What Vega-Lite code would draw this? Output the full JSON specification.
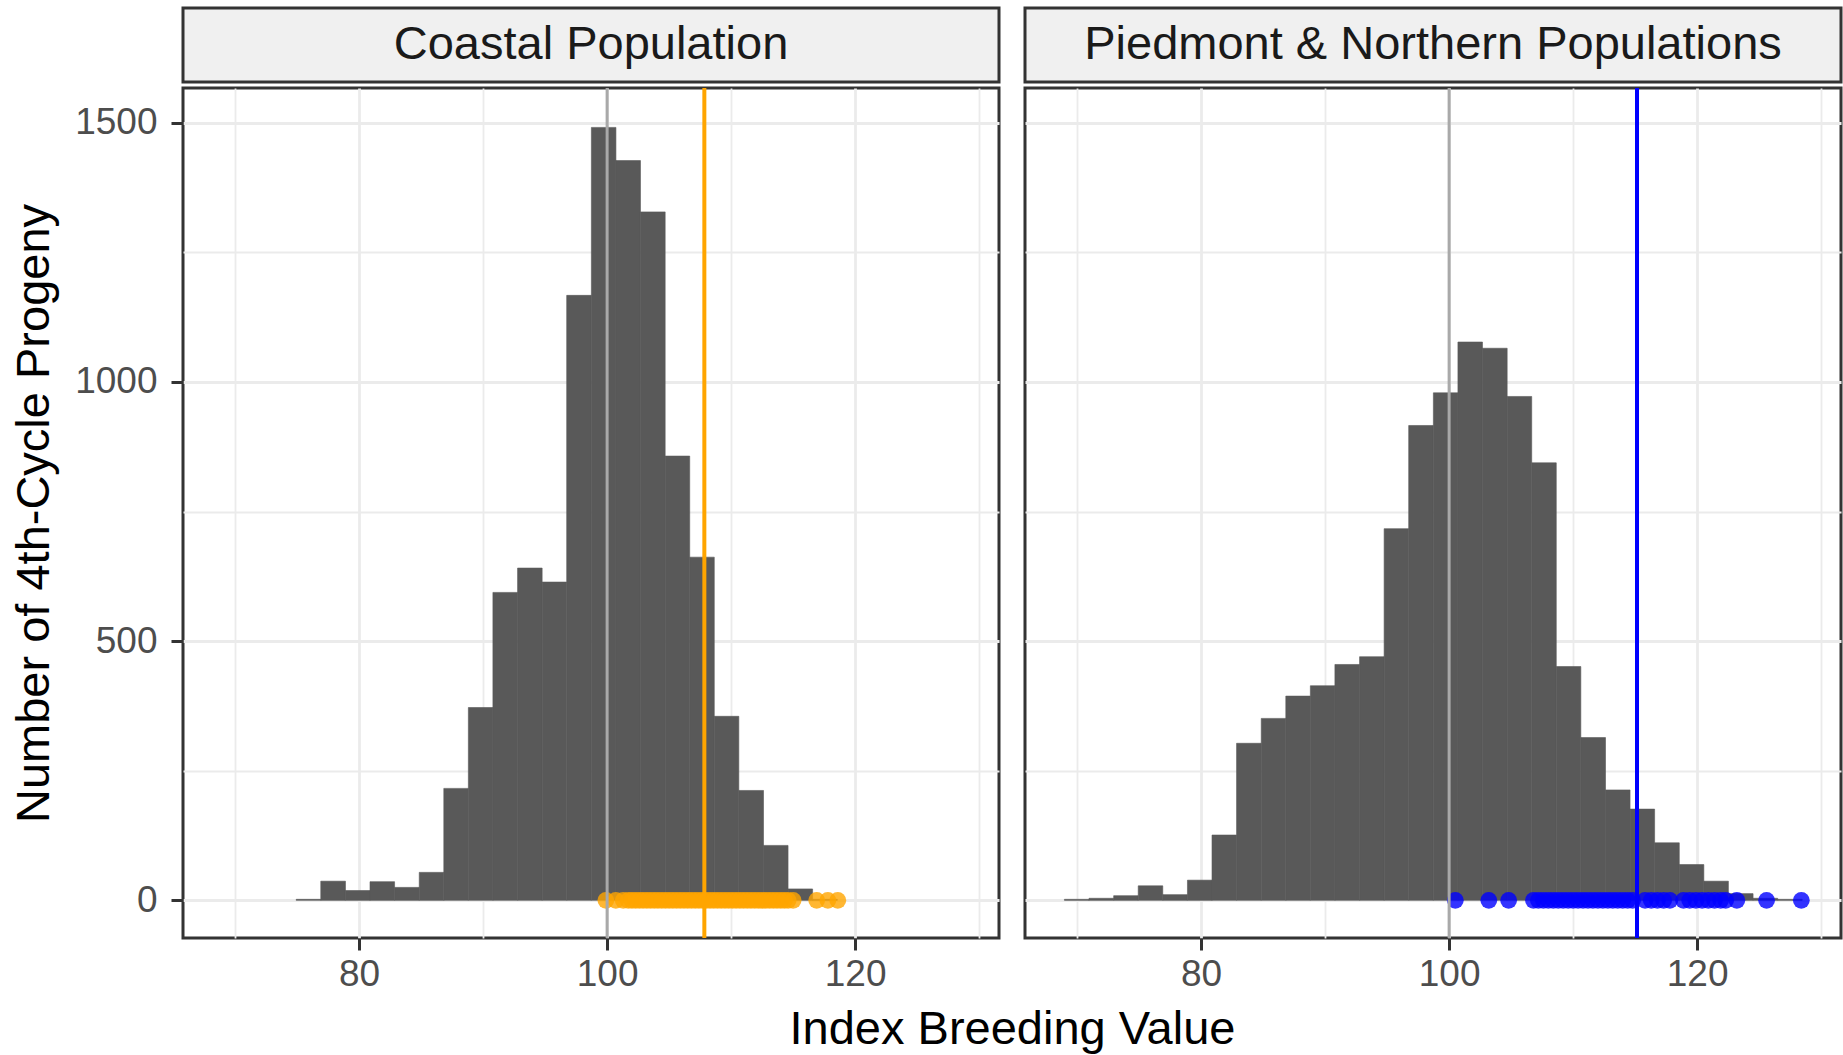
{
  "$schema": "https://vega.github.io/schema/vega-lite/v6.json",
  "background": "white",
  "padding": {"left": 9, "top": 6, "right": 1, "bottom": 0},
  "config": {
    "font": "Liberation Sans",
    "view": {"stroke": "#333333", "strokeWidth": 3},
    "axis": {
      "domain": false,
      "tickColor": "#333333",
      "tickWidth": 3,
      "tickSize": 12,
      "labelFont": "Liberation Sans",
      "labelFontSize": 37,
      "labelColor": "#4D4D4D",
      "labelFlush": false,
      "labelOverlap": false,
      "titleFont": "Liberation Sans",
      "titleFontSize": 47,
      "titleFontWeight": "normal",
      "titleColor": "#000000",
      "gridColor": "#EBEBEB"
    },
    "axisX": {"labelPadding": 6},
    "axisY": {"labelPadding": 14}
  },
  "datasets": {
    "strips": [
      {"panel": "Coastal Population"},
      {"panel": "Piedmont & Northern Populations"}
    ],
    "hist": [
      {"panel": "Coastal Population", "x0": 74.93, "x1": 76.91, "count": 2},
      {"panel": "Coastal Population", "x0": 76.91, "x1": 78.90, "count": 37},
      {"panel": "Coastal Population", "x0": 78.90, "x1": 80.88, "count": 19},
      {"panel": "Coastal Population", "x0": 80.88, "x1": 82.86, "count": 36},
      {"panel": "Coastal Population", "x0": 82.86, "x1": 84.85, "count": 25},
      {"panel": "Coastal Population", "x0": 84.85, "x1": 86.83, "count": 54},
      {"panel": "Coastal Population", "x0": 86.83, "x1": 88.81, "count": 216},
      {"panel": "Coastal Population", "x0": 88.81, "x1": 90.79, "count": 372},
      {"panel": "Coastal Population", "x0": 90.79, "x1": 92.78, "count": 594},
      {"panel": "Coastal Population", "x0": 92.78, "x1": 94.76, "count": 641},
      {"panel": "Coastal Population", "x0": 94.76, "x1": 96.74, "count": 614},
      {"panel": "Coastal Population", "x0": 96.74, "x1": 98.73, "count": 1167},
      {"panel": "Coastal Population", "x0": 98.73, "x1": 100.71, "count": 1491},
      {"panel": "Coastal Population", "x0": 100.71, "x1": 102.69, "count": 1427},
      {"panel": "Coastal Population", "x0": 102.69, "x1": 104.68, "count": 1328},
      {"panel": "Coastal Population", "x0": 104.68, "x1": 106.66, "count": 857},
      {"panel": "Coastal Population", "x0": 106.66, "x1": 108.64, "count": 662},
      {"panel": "Coastal Population", "x0": 108.64, "x1": 110.62, "count": 355},
      {"panel": "Coastal Population", "x0": 110.62, "x1": 112.61, "count": 212},
      {"panel": "Coastal Population", "x0": 112.61, "x1": 114.59, "count": 106},
      {"panel": "Coastal Population", "x0": 114.59, "x1": 116.57, "count": 22},
      {"panel": "Coastal Population", "x0": 116.57, "x1": 118.56, "count": 2},
      {"panel": "Piedmont & Northern Populations", "x0": 68.98, "x1": 70.96, "count": 2},
      {"panel": "Piedmont & Northern Populations", "x0": 70.96, "x1": 72.95, "count": 4},
      {"panel": "Piedmont & Northern Populations", "x0": 72.95, "x1": 74.93, "count": 9},
      {"panel": "Piedmont & Northern Populations", "x0": 74.93, "x1": 76.91, "count": 28},
      {"panel": "Piedmont & Northern Populations", "x0": 76.91, "x1": 78.90, "count": 11},
      {"panel": "Piedmont & Northern Populations", "x0": 78.90, "x1": 80.88, "count": 39},
      {"panel": "Piedmont & Northern Populations", "x0": 80.88, "x1": 82.86, "count": 126},
      {"panel": "Piedmont & Northern Populations", "x0": 82.86, "x1": 84.85, "count": 303},
      {"panel": "Piedmont & Northern Populations", "x0": 84.85, "x1": 86.83, "count": 351},
      {"panel": "Piedmont & Northern Populations", "x0": 86.83, "x1": 88.81, "count": 394},
      {"panel": "Piedmont & Northern Populations", "x0": 88.81, "x1": 90.79, "count": 414},
      {"panel": "Piedmont & Northern Populations", "x0": 90.79, "x1": 92.78, "count": 455},
      {"panel": "Piedmont & Northern Populations", "x0": 92.78, "x1": 94.76, "count": 470},
      {"panel": "Piedmont & Northern Populations", "x0": 94.76, "x1": 96.74, "count": 717},
      {"panel": "Piedmont & Northern Populations", "x0": 96.74, "x1": 98.73, "count": 916},
      {"panel": "Piedmont & Northern Populations", "x0": 98.73, "x1": 100.71, "count": 979},
      {"panel": "Piedmont & Northern Populations", "x0": 100.71, "x1": 102.69, "count": 1077},
      {"panel": "Piedmont & Northern Populations", "x0": 102.69, "x1": 104.68, "count": 1065},
      {"panel": "Piedmont & Northern Populations", "x0": 104.68, "x1": 106.66, "count": 972},
      {"panel": "Piedmont & Northern Populations", "x0": 106.66, "x1": 108.64, "count": 844},
      {"panel": "Piedmont & Northern Populations", "x0": 108.64, "x1": 110.62, "count": 451},
      {"panel": "Piedmont & Northern Populations", "x0": 110.62, "x1": 112.61, "count": 314},
      {"panel": "Piedmont & Northern Populations", "x0": 112.61, "x1": 114.59, "count": 213},
      {"panel": "Piedmont & Northern Populations", "x0": 114.59, "x1": 116.57, "count": 176},
      {"panel": "Piedmont & Northern Populations", "x0": 116.57, "x1": 118.56, "count": 111},
      {"panel": "Piedmont & Northern Populations", "x0": 118.56, "x1": 120.54, "count": 69},
      {"panel": "Piedmont & Northern Populations", "x0": 120.54, "x1": 122.52, "count": 37},
      {"panel": "Piedmont & Northern Populations", "x0": 122.52, "x1": 124.51, "count": 13},
      {"panel": "Piedmont & Northern Populations", "x0": 124.51, "x1": 126.49, "count": 4},
      {"panel": "Piedmont & Northern Populations", "x0": 126.49, "x1": 128.47, "count": 2}
    ],
    "pts": [
      {"panel": "Coastal Population", "ibv": 99.9},
      {"panel": "Coastal Population", "ibv": 100.7},
      {"panel": "Coastal Population", "ibv": 101.3},
      {"panel": "Coastal Population", "ibv": 101.7},
      {"panel": "Coastal Population", "ibv": 102.0},
      {"panel": "Coastal Population", "ibv": 102.3},
      {"panel": "Coastal Population", "ibv": 102.6},
      {"panel": "Coastal Population", "ibv": 102.9},
      {"panel": "Coastal Population", "ibv": 103.2},
      {"panel": "Coastal Population", "ibv": 103.5},
      {"panel": "Coastal Population", "ibv": 103.8},
      {"panel": "Coastal Population", "ibv": 104.1},
      {"panel": "Coastal Population", "ibv": 104.4},
      {"panel": "Coastal Population", "ibv": 104.7},
      {"panel": "Coastal Population", "ibv": 105.0},
      {"panel": "Coastal Population", "ibv": 105.3},
      {"panel": "Coastal Population", "ibv": 105.6},
      {"panel": "Coastal Population", "ibv": 105.9},
      {"panel": "Coastal Population", "ibv": 106.2},
      {"panel": "Coastal Population", "ibv": 106.5},
      {"panel": "Coastal Population", "ibv": 106.8},
      {"panel": "Coastal Population", "ibv": 107.1},
      {"panel": "Coastal Population", "ibv": 107.4},
      {"panel": "Coastal Population", "ibv": 107.7},
      {"panel": "Coastal Population", "ibv": 108.0},
      {"panel": "Coastal Population", "ibv": 108.3},
      {"panel": "Coastal Population", "ibv": 108.6},
      {"panel": "Coastal Population", "ibv": 108.9},
      {"panel": "Coastal Population", "ibv": 109.2},
      {"panel": "Coastal Population", "ibv": 109.5},
      {"panel": "Coastal Population", "ibv": 109.8},
      {"panel": "Coastal Population", "ibv": 110.1},
      {"panel": "Coastal Population", "ibv": 110.4},
      {"panel": "Coastal Population", "ibv": 110.7},
      {"panel": "Coastal Population", "ibv": 111.0},
      {"panel": "Coastal Population", "ibv": 111.3},
      {"panel": "Coastal Population", "ibv": 111.6},
      {"panel": "Coastal Population", "ibv": 111.9},
      {"panel": "Coastal Population", "ibv": 112.2},
      {"panel": "Coastal Population", "ibv": 112.5},
      {"panel": "Coastal Population", "ibv": 112.8},
      {"panel": "Coastal Population", "ibv": 113.1},
      {"panel": "Coastal Population", "ibv": 113.4},
      {"panel": "Coastal Population", "ibv": 113.7},
      {"panel": "Coastal Population", "ibv": 114.0},
      {"panel": "Coastal Population", "ibv": 114.3},
      {"panel": "Coastal Population", "ibv": 114.6},
      {"panel": "Coastal Population", "ibv": 115.0},
      {"panel": "Coastal Population", "ibv": 116.9},
      {"panel": "Coastal Population", "ibv": 117.8},
      {"panel": "Coastal Population", "ibv": 118.6},
      {"panel": "Piedmont & Northern Populations", "ibv": 100.5},
      {"panel": "Piedmont & Northern Populations", "ibv": 103.2},
      {"panel": "Piedmont & Northern Populations", "ibv": 104.8},
      {"panel": "Piedmont & Northern Populations", "ibv": 106.8},
      {"panel": "Piedmont & Northern Populations", "ibv": 107.2},
      {"panel": "Piedmont & Northern Populations", "ibv": 107.6},
      {"panel": "Piedmont & Northern Populations", "ibv": 108.0},
      {"panel": "Piedmont & Northern Populations", "ibv": 108.4},
      {"panel": "Piedmont & Northern Populations", "ibv": 108.8},
      {"panel": "Piedmont & Northern Populations", "ibv": 109.2},
      {"panel": "Piedmont & Northern Populations", "ibv": 109.6},
      {"panel": "Piedmont & Northern Populations", "ibv": 110.0},
      {"panel": "Piedmont & Northern Populations", "ibv": 110.4},
      {"panel": "Piedmont & Northern Populations", "ibv": 110.8},
      {"panel": "Piedmont & Northern Populations", "ibv": 111.2},
      {"panel": "Piedmont & Northern Populations", "ibv": 111.6},
      {"panel": "Piedmont & Northern Populations", "ibv": 112.0},
      {"panel": "Piedmont & Northern Populations", "ibv": 112.4},
      {"panel": "Piedmont & Northern Populations", "ibv": 112.8},
      {"panel": "Piedmont & Northern Populations", "ibv": 113.2},
      {"panel": "Piedmont & Northern Populations", "ibv": 113.6},
      {"panel": "Piedmont & Northern Populations", "ibv": 114.0},
      {"panel": "Piedmont & Northern Populations", "ibv": 114.4},
      {"panel": "Piedmont & Northern Populations", "ibv": 114.8},
      {"panel": "Piedmont & Northern Populations", "ibv": 115.8},
      {"panel": "Piedmont & Northern Populations", "ibv": 116.3},
      {"panel": "Piedmont & Northern Populations", "ibv": 116.8},
      {"panel": "Piedmont & Northern Populations", "ibv": 117.3},
      {"panel": "Piedmont & Northern Populations", "ibv": 117.8},
      {"panel": "Piedmont & Northern Populations", "ibv": 118.9},
      {"panel": "Piedmont & Northern Populations", "ibv": 119.4},
      {"panel": "Piedmont & Northern Populations", "ibv": 119.9},
      {"panel": "Piedmont & Northern Populations", "ibv": 120.4},
      {"panel": "Piedmont & Northern Populations", "ibv": 120.9},
      {"panel": "Piedmont & Northern Populations", "ibv": 121.4},
      {"panel": "Piedmont & Northern Populations", "ibv": 121.9},
      {"panel": "Piedmont & Northern Populations", "ibv": 122.3},
      {"panel": "Piedmont & Northern Populations", "ibv": 123.2},
      {"panel": "Piedmont & Northern Populations", "ibv": 125.6},
      {"panel": "Piedmont & Northern Populations", "ibv": 128.4}
    ],
    "vlines": [
      {"panel": "Coastal Population", "kind": "base", "value": 100},
      {"panel": "Coastal Population", "kind": "selected", "value": 107.84},
      {"panel": "Piedmont & Northern Populations", "kind": "base", "value": 100},
      {"panel": "Piedmont & Northern Populations", "kind": "selected", "value": 115.15}
    ]
  },
  "vconcat": [
    {
      "hconcat": [
        {
          "data": {"name": "strips"},
          "transform": [{"filter": "datum.panel === 'Coastal Population'"}],
          "width": 816,
          "height": 74,
          "view": {"fill": "#F0F0F0", "stroke": "#333333", "strokeWidth": 3},
          "mark": {"type": "text", "fontSize": 47, "color": "#1A1A1A", "align": "center", "baseline": "middle", "font": "Liberation Sans"},
          "encoding": {"text": {"field": "panel", "type": "nominal"}}
        },
        {
          "data": {"name": "strips"},
          "transform": [{"filter": "datum.panel === 'Piedmont & Northern Populations'"}],
          "width": 816,
          "height": 74,
          "view": {"fill": "#F0F0F0", "stroke": "#333333", "strokeWidth": 3},
          "mark": {"type": "text", "fontSize": 47, "color": "#1A1A1A", "align": "center", "baseline": "middle", "font": "Liberation Sans"},
          "encoding": {"text": {"field": "panel", "type": "nominal"}}
        }
      ],
      "spacing": 26,
      "bounds": "flush"
    },
    {
      "hconcat": [
        {
          "width": 816,
          "height": 850,
          "layer": [
            {
              "data": {"name": "hist"},
              "transform": [{"filter": "datum.panel === 'Coastal Population'"}],
              "mark": {"type": "rect", "color": "#595959", "stroke": "#595959", "strokeWidth": 0.6},
              "encoding": {
                "x": {
                  "field": "x0", "type": "quantitative",
                  "scale": {"domain": [65.8, 131.6], "nice": false, "zero": false},
                  "axis": {
                    "values": [70, 80, 90, 100, 110, 120, 130],
                    "format": "d",
                    "labelExpr": "datum.value % 20 === 0 ? datum.label : ''",
                    "tickOpacity": {"condition": {"test": "datum.value % 20 === 0", "value": 1}, "value": 0},
                    "gridWidth": {"condition": {"test": "datum.value % 20 === 0", "value": 2.8}, "value": 1.8},
                    "title": "Index Breeding Value",
                    "titleX": 829,
                    "titlePadding": 14
                  }
                },
                "x2": {"field": "x1"},
                "y": {
                  "field": "count", "type": "quantitative",
                  "scale": {"domain": [-72.6, 1567], "nice": false, "zero": false},
                  "axis": {
                    "values": [0, 250, 500, 750, 1000, 1250, 1500],
                    "format": "d",
                    "labelExpr": "datum.value % 500 === 0 ? datum.label : ''",
                    "tickOpacity": {"condition": {"test": "datum.value % 500 === 0", "value": 1}, "value": 0},
                    "gridWidth": {"condition": {"test": "datum.value % 500 === 0", "value": 2.8}, "value": 1.8},
                    "title": "Number of 4th-Cycle Progeny",
                    "titlePadding": 16
                  }
                },
                "y2": {"datum": 0}
              }
            },
            {
              "data": {"name": "pts"},
              "transform": [{"filter": "datum.panel === 'Coastal Population'"}],
              "mark": {"type": "circle", "size": 283, "opacity": 0.8, "strokeWidth": 0},
              "encoding": {
                "x": {"field": "ibv", "type": "quantitative"},
                "y": {"datum": 0},
                "color": {"field": "panel", "type": "nominal", "scale": {"domain": ["Coastal Population", "Piedmont & Northern Populations"], "range": ["#FFA500", "#0000FF"]}, "legend": null}
              }
            },
            {
              "data": {"name": "vlines"},
              "transform": [{"filter": "datum.panel === 'Coastal Population' && datum.kind === 'base'"}],
              "mark": {"type": "rule", "color": "#A9A9A9", "strokeWidth": 3},
              "encoding": {"x": {"field": "value", "type": "quantitative"}}
            },
            {
              "data": {"name": "vlines"},
              "transform": [{"filter": "datum.panel === 'Coastal Population' && datum.kind === 'selected'"}],
              "mark": {"type": "rule", "strokeWidth": 4},
              "encoding": {
                "x": {"field": "value", "type": "quantitative"},
                "color": {"field": "panel", "type": "nominal", "scale": {"domain": ["Coastal Population", "Piedmont & Northern Populations"], "range": ["#FFA500", "#0000FF"]}, "legend": null}
              }
            }
          ]
        },
        {
          "width": 816,
          "height": 850,
          "layer": [
            {
              "data": {"name": "hist"},
              "transform": [{"filter": "datum.panel === 'Piedmont & Northern Populations'"}],
              "mark": {"type": "rect", "color": "#595959", "stroke": "#595959", "strokeWidth": 0.6},
              "encoding": {
                "x": {
                  "field": "x0", "type": "quantitative",
                  "scale": {"domain": [65.8, 131.6], "nice": false, "zero": false},
                  "axis": {
                    "values": [70, 80, 90, 100, 110, 120, 130],
                    "format": "d",
                    "labelExpr": "datum.value % 20 === 0 ? datum.label : ''",
                    "tickOpacity": {"condition": {"test": "datum.value % 20 === 0", "value": 1}, "value": 0},
                    "gridWidth": {"condition": {"test": "datum.value % 20 === 0", "value": 2.8}, "value": 1.8},
                    "title": null
                  }
                },
                "x2": {"field": "x1"},
                "y": {
                  "field": "count", "type": "quantitative",
                  "scale": {"domain": [-72.6, 1567], "nice": false, "zero": false},
                  "axis": {
                    "values": [0, 250, 500, 750, 1000, 1250, 1500],
                    "labels": false,
                    "ticks": false,
                    "gridWidth": {"condition": {"test": "datum.value % 500 === 0", "value": 2.8}, "value": 1.8},
                    "title": null
                  }
                },
                "y2": {"datum": 0}
              }
            },
            {
              "data": {"name": "pts"},
              "transform": [{"filter": "datum.panel === 'Piedmont & Northern Populations'"}],
              "mark": {"type": "circle", "size": 283, "opacity": 0.8, "strokeWidth": 0},
              "encoding": {
                "x": {"field": "ibv", "type": "quantitative"},
                "y": {"datum": 0},
                "color": {"field": "panel", "type": "nominal", "scale": {"domain": ["Coastal Population", "Piedmont & Northern Populations"], "range": ["#FFA500", "#0000FF"]}, "legend": null}
              }
            },
            {
              "data": {"name": "vlines"},
              "transform": [{"filter": "datum.panel === 'Piedmont & Northern Populations' && datum.kind === 'base'"}],
              "mark": {"type": "rule", "color": "#A9A9A9", "strokeWidth": 3},
              "encoding": {"x": {"field": "value", "type": "quantitative"}}
            },
            {
              "data": {"name": "vlines"},
              "transform": [{"filter": "datum.panel === 'Piedmont & Northern Populations' && datum.kind === 'selected'"}],
              "mark": {"type": "rule", "strokeWidth": 4},
              "encoding": {
                "x": {"field": "value", "type": "quantitative"},
                "color": {"field": "panel", "type": "nominal", "scale": {"domain": ["Coastal Population", "Piedmont & Northern Populations"], "range": ["#FFA500", "#0000FF"]}, "legend": null}
              }
            }
          ]
        }
      ],
      "spacing": 26,
      "bounds": "flush"
    }
  ],
  "spacing": 0
}
